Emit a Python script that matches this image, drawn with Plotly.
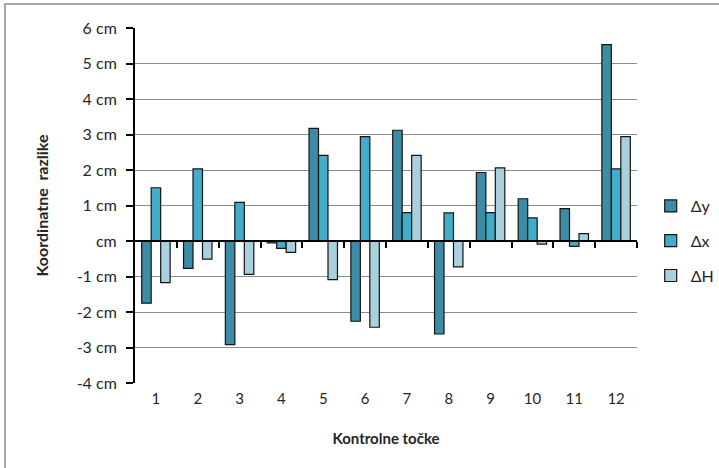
import plotly.graph_objects as go

# Control points and coordinate differences (cm)
points = [1, 2, 3, 4, 5, 6, 7, 8, 9, 10, 11, 12]
dy = [-1.75, -0.77, -2.92, -0.05, 3.17, -2.26, 3.12, -2.62, 1.93, 1.19, 0.91, 5.53]
dx = [1.50, 2.03, 1.09, -0.21, 2.41, 2.94, 0.80, 0.79, 0.80, 0.65, -0.15, 2.03]
dh = [-1.17, -0.51, -0.94, -0.32, -1.09, -2.43, 2.41, -0.73, 2.06, -0.09, 0.21, 2.94]

series_names = ["\u0394y", "\u0394x", "\u0394H"]
series_colors = ["#3B8CA4", "#42ADC9", "#A9D0DE"]

y_ticks = [-4, -3, -2, -1, 0, 1, 2, 3, 4, 5, 6]
y_ticktext = [f"{v} cm" if v != 0 else "cm" for v in y_ticks]
y_min, y_max = -4, 6
x_min, x_max = 0.5, 12.5
boundaries = [p + 0.5 for p in points]

FONT = "Lato, 'Open Sans', sans-serif"
TXT = "#262626"

fig = go.Figure()
for name, vals, col in zip(series_names, [dy, dx, dh], series_colors):
    fig.add_trace(go.Bar(
        x=points, y=vals, name=name, legendgroup=name,
        marker=dict(color=col, line=dict(color="#141414", width=1.2)),
    ))

# helper trace so the category-boundary axis on the zero line is drawn
fig.add_trace(go.Scatter(x=[x_min, x_max], y=[None, None], xaxis="x2",
                         showlegend=False, hoverinfo="skip"))

zero_pos = (0 - y_min) / (y_max - y_min)

fig.update_layout(
    width=719, height=468,
    margin=dict(l=135, r=82, t=28, b=85, autoexpand=False),
    paper_bgcolor="white", plot_bgcolor="white",
    barmode="group", bargap=0.32, bargroupgap=0,
    font=dict(family=FONT, size=15, color=TXT),
    showlegend=True,
    legend=dict(xref="container", yref="container", x=0.905, y=0.485,
                xanchor="left", yanchor="middle",
                font=dict(size=16, color=TXT),
                itemwidth=30, tracegroupgap=11, bgcolor="rgba(0,0,0,0)"),
    xaxis=dict(
        range=[x_min, x_max], tickmode="array", tickvals=points,
        ticktext=[str(p) for p in points], showgrid=False, zeroline=False,
        showline=False, ticks="", ticklabelstandoff=5,
        tickfont=dict(size=15, color=TXT),
        title=dict(text="<b>Kontrolne točke</b>", font=dict(size=15, color=TXT), standoff=27),
    ),
    xaxis2=dict(
        overlaying="x", anchor="free", position=zero_pos,
        range=[x_min, x_max], tickmode="array", tickvals=boundaries,
        showticklabels=False, ticks="outside", ticklen=6, tickwidth=2,
        tickcolor="black", showline=True, linecolor="black", linewidth=2,
        showgrid=False, zeroline=False,
    ),
    yaxis=dict(
        range=[y_min, y_max], tickmode="array", tickvals=y_ticks,
        ticktext=y_ticktext, showgrid=True, gridcolor="#8c8c8c", gridwidth=1,
        zeroline=False, showline=True, linecolor="black", linewidth=2,
        ticks="outside", ticklen=7, tickwidth=2, tickcolor="black",
        ticklabelstandoff=6,
        tickfont=dict(size=16, color=TXT),
        title=dict(text="<b>Koordinatne\u00a0 razlike</b>", font=dict(size=16, color=TXT), standoff=24),
    ),
    shapes=[dict(type="rect", xref="paper", yref="paper",
                 x0=(5 - 135) / 502, x1=1.3, y0=-0.4, y1=(383 - 4) / 355,
                 line=dict(color="#8c8c8c", width=1.5), layer="below")],
)

fig.write_html("out.html")
